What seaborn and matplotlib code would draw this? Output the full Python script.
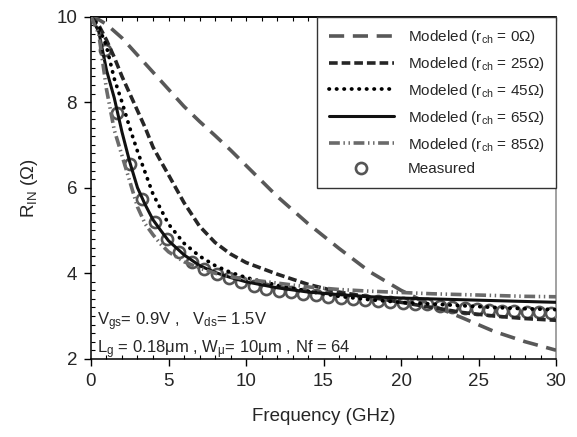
import matplotlib
matplotlib.use("Agg")
import matplotlib.pyplot as plt
import numpy as np
import seaborn as sns
from matplotlib.ticker import MultipleLocator

# modeled curves (frequency grid in GHz, R_IN in ohm)
freq_model = [0, 0.5, 1.0, 1.5, 2.0, 2.5, 3.0, 3.5, 4.0, 4.5, 5.0, 6.0, 7.0, 8.0, 9.0,
              10.0, 12.0, 14.0, 16.0, 18.0, 20.0, 22.0, 24.0, 26.0, 28.0, 30.0]
r_ch0 = [10.0, 9.93, 9.82, 9.66, 9.5, 9.3, 9.1, 8.9, 8.7, 8.5, 8.3, 7.9, 7.55, 7.22, 6.88,
         6.52, 5.8, 5.16, 4.58, 4.03, 3.6, 3.25, 2.95, 2.64, 2.4, 2.2]
r_ch25 = [10.0, 9.8, 9.45, 9.05, 8.6, 8.2, 7.8, 7.4, 6.95, 6.62, 6.3, 5.65, 5.1, 4.72, 4.45,
          4.25, 3.98, 3.74, 3.56, 3.44, 3.32, 3.2, 3.08, 3.0, 2.94, 2.9]
r_ch45 = [10.0, 9.77, 9.3, 8.55, 8.0, 7.4, 6.85, 6.35, 5.85, 5.5, 5.15, 4.7, 4.4, 4.18, 4.02,
          3.9, 3.72, 3.58, 3.46, 3.38, 3.32, 3.28, 3.24, 3.2, 3.17, 3.15]
r_ch65 = [10.0, 9.65, 8.75, 8.1, 7.3, 6.6, 6.0, 5.6, 5.25, 5.0, 4.76, 4.43, 4.18, 4.02, 3.9,
          3.8, 3.66, 3.56, 3.5, 3.45, 3.42, 3.4, 3.38, 3.36, 3.34, 3.32]
r_ch85 = [10.0, 9.6, 8.3, 7.35, 6.75, 6.15, 5.55, 5.15, 4.9, 4.68, 4.5, 4.27, 4.12, 4.0, 3.92,
          3.86, 3.77, 3.68, 3.62, 3.58, 3.55, 3.52, 3.5, 3.48, 3.46, 3.45]

# measured points
freq_meas = [0.9, 1.7, 2.5, 3.3, 4.1, 4.9, 5.7, 6.5, 7.3, 8.1, 8.9, 9.7, 10.5, 11.3, 12.1,
             12.9, 13.7, 14.5, 15.3, 16.1, 16.9, 17.7, 18.5, 19.3, 20.1, 20.9, 21.7, 22.5,
             23.3, 24.1, 24.9, 25.7, 26.5, 27.3, 28.1, 28.9, 29.7]
r_meas = [9.22, 7.75, 6.56, 5.74, 5.2, 4.8, 4.5, 4.27, 4.1, 3.98, 3.88, 3.79, 3.7, 3.64, 3.59,
          3.55, 3.51, 3.48, 3.45, 3.42, 3.4, 3.38, 3.35, 3.33, 3.31, 3.29, 3.27, 3.23,
          3.2, 3.18, 3.16, 3.14, 3.12, 3.11, 3.1, 3.09, 3.08]

labels = ["Modeled (r$_{ch}$ = 0\u03a9)", "Modeled (r$_{ch}$ = 25\u03a9)",
          "Modeled (r$_{ch}$ = 45\u03a9)", "Modeled (r$_{ch}$ = 65\u03a9)",
          "Modeled (r$_{ch}$ = 85\u03a9)"]

sns.set_theme(style="ticks")
plt.rcParams["font.family"] = ["Liberation Sans", "DejaVu Sans"]
plt.rcParams["mathtext.default"] = "regular"

fig = plt.figure(figsize=(5.77, 4.37), dpi=100)
ax = fig.add_axes([0.1577, 0.179, 0.806, 0.783])

styles = [
    dict(color="#585858", lw=2.6, linestyle=(0, (4.2, 2.4))),
    dict(color="#262626", lw=2.6, linestyle=(0, (2.4, 1.1))),
    dict(color="black", lw=2.7, linestyle=(0, (0.1, 1.9)), dash_capstyle="round"),
    dict(color="#111111", lw=2.2, linestyle="-"),
    dict(color="#6a6a6a", lw=2.6, linestyle=(0, (3.0, 1.0, 0.4, 1.0, 0.4, 1.0))),
]
series = [r_ch0, r_ch25, r_ch45, r_ch65, r_ch85]

sns.lineplot(x=freq_meas, y=r_meas, ax=ax, linestyle="none", marker="o", ms=8,
             mfc="none", mec="#555555", mew=1.9, label="Measured", zorder=2)
for vals, lab, st in zip(series, labels, styles):
    sns.lineplot(x=freq_model, y=vals, ax=ax, label=lab, zorder=3, **st)

ax.set_xlim(0, 30)
ax.set_ylim(2, 10)
ax.xaxis.set_major_locator(MultipleLocator(5))
ax.xaxis.set_minor_locator(MultipleLocator(1))
ax.yaxis.set_major_locator(MultipleLocator(2))
ax.yaxis.set_minor_locator(MultipleLocator(0.2))
ax.tick_params(axis="both", which="major", direction="out", length=5, width=1,
               labelsize=13.5, color="black", pad=5)
ax.tick_params(axis="both", which="minor", direction="in", length=3, width=0.8,
               color="black")
ax.tick_params(axis="x", which="both", bottom=True, top=False)
ax.tick_params(axis="y", which="both", left=True, right=False)

top = ax.secondary_xaxis("top")
top.xaxis.set_major_locator(MultipleLocator(1))
top.tick_params(axis="x", which="major", direction="in", length=3, width=0.8,
                labeltop=False, top=True, color="black")
top.spines["top"].set_color("black")
top.spines["top"].set_linewidth(1.1)

for side in ["left", "bottom", "top"]:
    ax.spines[side].set_color("black")
    ax.spines[side].set_linewidth(1.1)
ax.spines["right"].set_visible(True)
ax.spines["top"].set_visible(True)
ax.spines["right"].set_color("#888888")
ax.spines["right"].set_linewidth(1.1)

ax.set_xlabel("Frequency (GHz)", fontsize=13.5, labelpad=13)
ax.set_ylabel("R$_{IN}$ (\u03a9)", fontsize=13.5, labelpad=12)

ax.text(0.012, 0.098, "V$_{gs}$= 0.9V ,   V$_{ds}$= 1.5V", transform=ax.transAxes,
        fontsize=12, ha="left", va="baseline")
ax.text(0.012, 0.016, "L$_g$ = 0.18\u03bcm , W$_{\u03bc}$= 10\u03bcm , Nf = 64",
        transform=ax.transAxes, fontsize=12, ha="left", va="baseline")

handles, labs = ax.get_legend_handles_labels()
order = [1, 2, 3, 4, 5, 0]
leg = ax.legend([handles[i] for i in order], [labs[i] for i in order],
                loc="upper right", borderaxespad=0, fontsize=11, handlelength=4.3,
                labelspacing=0.58, handletextpad=0.9, borderpad=0.75, fancybox=False,
                framealpha=1, edgecolor="#333333")
leg.get_frame().set_linewidth(1.0)
leg.set_zorder(5)

fig.savefig("out.png", dpi=100)
